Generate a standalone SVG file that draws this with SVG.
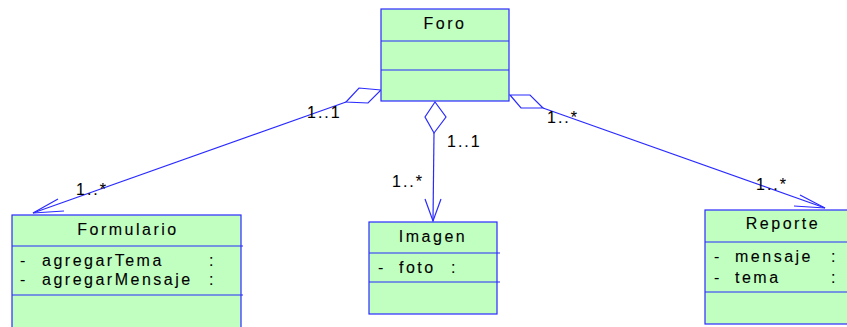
<svg xmlns="http://www.w3.org/2000/svg" width="847" height="327" viewBox="0 0 847 327">
  <style>
    .box { fill: #c0ffc0; stroke: #2a2aff; stroke-width: 1.2; }
    .sep { stroke: #2a2aff; stroke-width: 1.2; fill: none; }
    .txt { font-family: "Liberation Sans", Arial, sans-serif; font-size: 16px; letter-spacing: 2.5px; fill: #000; stroke: #000; stroke-width: 0.1; }
    .title { text-anchor: middle; }
    .edge { stroke: #2a2aff; stroke-width: 1.2; fill: none; }
    .dia { stroke: #2a2aff; stroke-width: 1.2; fill: #ffffff; }
    .lbl { font-family: "Liberation Sans", Arial, sans-serif; font-size: 16px; letter-spacing: 2px; fill: #000; stroke: #000; stroke-width: 0.1; }
  </style>
  <rect width="847" height="327" fill="#ffffff"/>

  <!-- connectors -->
  <g id="connectors">
    <!-- Foro to Formulario -->
    <line class="edge" x1="346" y1="102" x2="33" y2="213"/>
    <polyline class="edge" points="58,199 33,213 64,211"/>
    <polygon class="dia" points="381,90 359,88 346,102 368,103"/>
    <text class="lbl" x="307" y="118">1..1</text>
    <text class="lbl" x="76" y="195">1..*</text>

    <!-- Foro to Imagen -->
    <line class="edge" x1="434" y1="133" x2="433" y2="221"/>
    <polyline class="edge" points="425,199 433,221 441,199"/>
    <polygon class="dia" points="435,102 425,117 434,133 446,117"/>
    <text class="lbl" x="447" y="147">1..1</text>
    <text class="lbl" x="392" y="187">1..*</text>

    <!-- Foro to Reporte -->
    <line class="edge" x1="543" y1="108" x2="825" y2="208"/>
    <polyline class="edge" points="800,195 825,208 794,206"/>
    <polygon class="dia" points="510,95 530,95 543,108 521,108"/>
    <text class="lbl" x="547" y="123">1..*</text>
    <text class="lbl" x="756" y="190">1..*</text>
  </g>

  <!-- Foro -->
  <g id="foro">
    <rect class="box" x="381" y="9" width="128" height="92"/>
    <line class="sep" x1="381" y1="41" x2="509" y2="41"/>
    <line class="sep" x1="381" y1="70" x2="509" y2="70"/>
    <text class="txt title" x="445" y="29">Foro</text>
  </g>

  <!-- Formulario -->
  <g id="formulario">
    <rect class="box" x="12" y="215" width="229" height="118"/>
    <line class="sep" x1="12" y1="246" x2="243" y2="246"/>
    <line class="sep" x1="12" y1="295" x2="243" y2="295"/>
    <text class="txt title" x="128" y="235">Formulario</text>
    <text class="txt" x="20" y="266">-</text>
    <text class="txt" x="42" y="266">agregarTema</text>
    <text class="txt" x="209" y="266">:</text>
    <text class="txt" x="20" y="285">-</text>
    <text class="txt" x="42" y="285">agregarMensaje</text>
    <text class="txt" x="209" y="285">:</text>
  </g>

  <!-- Imagen -->
  <g id="imagen">
    <rect class="box" x="369" y="222" width="128" height="92"/>
    <line class="sep" x1="369" y1="253" x2="500" y2="253"/>
    <line class="sep" x1="369" y1="282" x2="500" y2="282"/>
    <text class="txt title" x="433" y="242">Imagen</text>
    <text class="txt" x="378" y="273">-</text>
    <text class="txt" x="399" y="273">foto</text>
    <text class="txt" x="451" y="273">:</text>
  </g>

  <!-- Reporte -->
  <g id="reporte">
    <rect class="box" x="705" y="210" width="160" height="114"/>
    <line class="sep" x1="705" y1="242" x2="865" y2="242"/>
    <line class="sep" x1="705" y1="292" x2="865" y2="292"/>
    <text class="txt title" x="783" y="229">Reporte</text>
    <text class="txt" x="714" y="262">-</text>
    <text class="txt" x="735" y="262">mensaje</text>
    <text class="txt" x="831" y="262">:</text>
    <text class="txt" x="714" y="283">-</text>
    <text class="txt" x="735" y="283">tema</text>
    <text class="txt" x="831" y="283">:</text>
  </g>
</svg>
